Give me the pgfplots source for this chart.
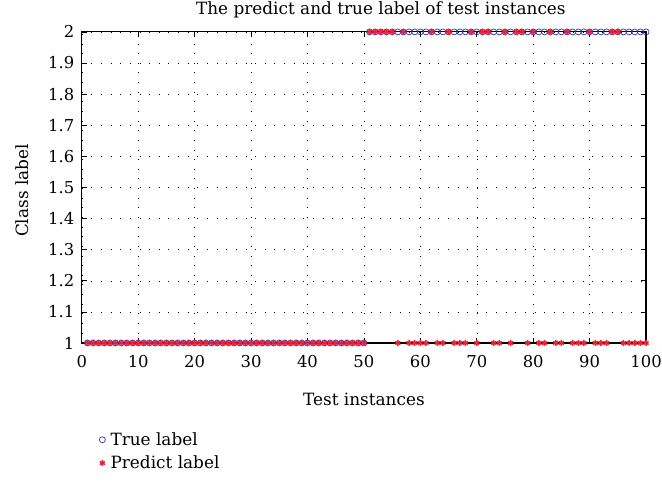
\documentclass[border=0pt]{standalone}
\usepackage{fontspec}
\setmainfont{DejaVu Serif}
\usepackage{pgfplots}
\pgfplotsset{compat=1.18}
\pgfplotsset{mylegend/.style={legend image code/.code={\path (0bp,0bp) (11bp,0bp); \draw[mark repeat=2,mark phase=2,##1] plot coordinates {(0bp,0bp)(5bp,0bp)(11bp,0bp)};}}}
\newcommand{\ff}{\fontsize{17}{20}\selectfont}
\begin{document}
\begin{tikzpicture}[font=\ff]
\path[use as bounding box] (-82bp,-141bp) rectangle (582bp,344bp);
\begin{axis}[
  at={(0,0)}, anchor=south west,
  scale only axis,
  width=566bp, height=312bp,
  xmin=0, xmax=100, ymin=1, ymax=2,
  xtick={0,10,...,100},
  ytick={1,1.1,1.2,1.3,1.4,1.5,1.6,1.7,1.8,1.9,2},
  yticklabel style={/pgf/number format/fixed, xshift=-4bp},
  xticklabel style={yshift=-9bp},
  /pgf/number format/assume math mode=true,
  tick label style={font=\fontsize{16.5}{20}\selectfont},
  label style={font=\ff},
  title style={font=\ff, at={(axis description cs:0.53,1.038)}, anchor=base},
  grid=major,
  major grid style={black, line width=0.5pt, dash pattern=on 0.7pt off 9pt},
  tick align=inside,
  major tick length=5bp,
  axis line style={black, line width=1.2pt},
  tick style={black, line width=0.6pt},
  title={The predict and true label of test instances},
  xlabel={Test instances},
  ylabel={Class label},
  xlabel style={at={(axis description cs:0.5,-0.18)}, anchor=center},
  ylabel style={at={(axis description cs:-0.106,0.49)}, anchor=center},
  legend style={at={(axis description cs:0.027,-0.281)}, anchor=north west, draw=none, fill=none,
    inner sep=0pt, row sep=5bp, font=\ff},
  legend cell align=left,
]
\addplot[only marks, mark=o, mark size=3bp, color={rgb,255:red,50;green,50;blue,170}, mark options={line width=0.7pt}, mylegend] coordinates {
(1,1)(2,1)(3,1)(4,1)(5,1)(6,1)(7,1)(8,1)(9,1)(10,1)
(11,1)(12,1)(13,1)(14,1)(15,1)(16,1)(17,1)(18,1)(19,1)(20,1)
(21,1)(22,1)(23,1)(24,1)(25,1)(26,1)(27,1)(28,1)(29,1)(30,1)
(31,1)(32,1)(33,1)(34,1)(35,1)(36,1)(37,1)(38,1)(39,1)(40,1)
(41,1)(42,1)(43,1)(44,1)(45,1)(46,1)(47,1)(48,1)(49,1)(50,1)
(51,2)(52,2)(53,2)(54,2)(55,2)(56,2)(57,2)(58,2)(59,2)(60,2)
(61,2)(62,2)(63,2)(64,2)(65,2)(66,2)(67,2)(68,2)(69,2)(70,2)
(71,2)(72,2)(73,2)(74,2)(75,2)(76,2)(77,2)(78,2)(79,2)(80,2)
(81,2)(82,2)(83,2)(84,2)(85,2)(86,2)(87,2)(88,2)(89,2)(90,2)
(91,2)(92,2)(93,2)(94,2)(95,2)(96,2)(97,2)(98,2)(99,2)(100,2)
};
\addlegendentry{True label}
\addplot[only marks, mark=asterisk, mark size=3bp, color={rgb,255:red,240;green,30;blue,50}, mark options={line width=1.5pt}, mylegend] coordinates {
(1,1)(2,1)(3,1)(4,1)(5,1)(6,1)(7,1)(8,1)(9,1)(10,1)
(11,1)(12,1)(13,1)(14,1)(15,1)(16,1)(17,1)(18,1)(19,1)(20,1)
(21,1)(22,1)(23,1)(24,1)(25,1)(26,1)(27,1)(28,1)(29,1)(30,1)
(31,1)(32,1)(33,1)(34,1)(35,1)(36,1)(37,1)(38,1)(39,1)(40,1)
(41,1)(42,1)(43,1)(44,1)(45,1)(46,1)(47,1)(48,1)(49,1)(50,1)
(51,2)(52,2)(53,2)(54,2)(55,2)(56,1)(57,2)(58,1)(59,1)(60,1)
(61,1)(62,2)(63,1)(64,1)(65,2)(66,1)(67,1)(68,1)(69,2)(70,1)
(71,2)(72,2)(73,1)(74,1)(75,2)(76,1)(77,2)(78,2)(79,1)(80,2)
(81,1)(82,1)(83,2)(84,1)(85,1)(86,2)(87,1)(88,1)(89,1)(90,2)
(91,1)(92,1)(93,1)(94,2)(95,2)(96,1)(97,1)(98,1)(99,1)(100,1)
};
\addlegendentry{Predict label}
\end{axis}
\end{tikzpicture}
\end{document}
